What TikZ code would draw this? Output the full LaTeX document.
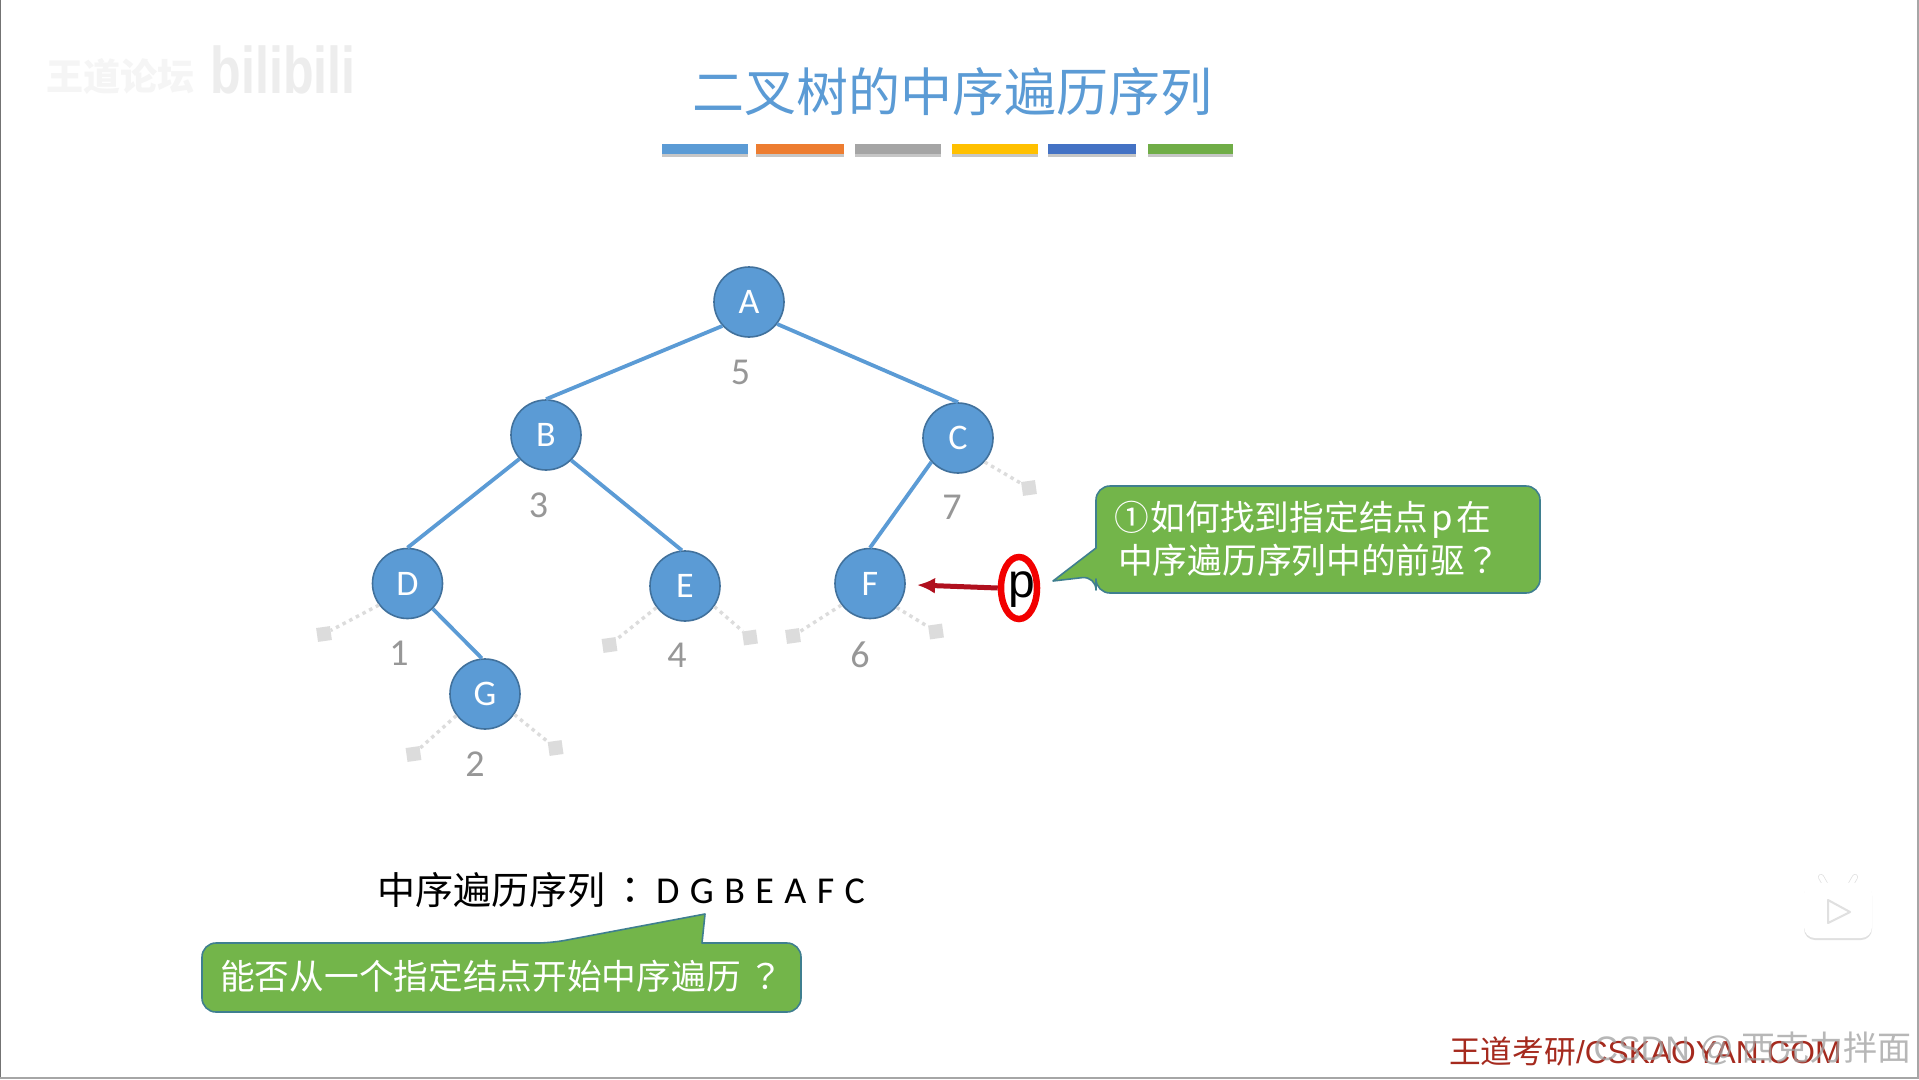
\documentclass[tikz,border=0pt]{standalone}
\usepackage{fontspec}
\setmainfont{Carlito}
\newfontfamily\cjk{Noto Sans CJK SC}
\newfontfamily\cjkt{Noto Sans CJK TC}
\newfontfamily\arl{Liberation Sans}
\usetikzlibrary{shapes.geometric,arrows.meta}
\definecolor{tblue}{HTML}{5B9BD5}
\definecolor{tedge}{HTML}{41719C}
\definecolor{tgreen}{HTML}{73B54A}
\definecolor{tgreenedge}{HTML}{3F7F8F}
\definecolor{leaf}{HTML}{DCDCDC}
\definecolor{tred}{HTML}{B0101E}
\definecolor{brand}{HTML}{A52A1E}
\definecolor{ordergray}{HTML}{979797}
\tikzset{
  x=1pt,y=-1pt,
  tree/.style={circle,draw=tedge,line width=1.6pt,fill=tblue,minimum size=70pt,inner sep=0pt,text=white,font=\fontsize{36}{36}\selectfont},
  edgeline/.style={draw=tblue,line width=3.8pt},
  leafbox/.style={rectangle,fill=leaf,minimum size=14pt,inner sep=0pt,rotate=8},
  nulledge/.style={draw=leaf,line width=3.4pt,dash pattern=on 3.5pt off 4pt},
  order/.style={text=ordergray,font=\fontsize{38}{38}\selectfont,inner sep=0pt},
  callout/.style={fill=tgreen,draw=tgreenedge,line width=1.6pt,line join=round},
  calltext/.style={anchor=west,text=white,font=\cjk\fontsize{34.7}{34.7}\selectfont,inner sep=0pt},
}
\begin{document}
\begin{tikzpicture}
\useasboundingbox (0,0) rectangle (1919,1079);
\fill[white] (0,0) rectangle (1919,1079);
\draw[gray!90!black,line width=1.5pt] (0.7,0) -- (0.7,1079);
\draw[gray!70,line width=1.5pt] (0,1078) -- (1919,1078);
\draw[gray!70,line width=1.5pt] (1918.2,0) -- (1918.2,1079);
% faint watermark
\node[text=black!4,font=\cjk\bfseries\fontsize{37}{37}\selectfont,inner sep=0pt] (wm1) at (120,76) {王道论坛};
\node[text=black!7,font=\arl\bfseries\fontsize{66}{66}\selectfont,inner sep=0pt,xscale=.76] (wm2) at (283,70) {bilibili};
% title
\node[text=tblue,font=\cjk\fontsize{52}{52}\selectfont,inner sep=0pt] (title) at (952,92) {二叉树的中序遍历序列};
\foreach \a/\b/\c in {662/748/5B9BD5,756/844/ED7D31,855/941/A5A5A5,952/1038/FFC000,1048/1136/4472C4,1148/1233/70AD47}{
  \definecolor{cc}{HTML}{\c}
  \fill[gray!45] (\a,149) rectangle (\b,157);
  \fill[cc] (\a,144) rectangle (\b,154);
}
% tree nodes
\node[tree] (A) at (749,302) {A};
\node[tree] (B) at (546,435) {B};
\node[tree] (C) at (958,438) {C};
\node[tree] (D) at (407.5,583.5) {D};
\node[tree] (E) at (685,586) {E};
\node[tree] (F) at (870,583.5) {F};
\node[tree] (G) at (485,694) {G};
\draw[edgeline] (A.222) -- (B.north);
\draw[edgeline] (A.-38) -- (C.north);
\draw[edgeline] (B.222) -- (D.north);
\draw[edgeline] (B.-45) -- (E.95);
\draw[edgeline] (C.222) -- (F.north);
\draw[edgeline] (D.-45) -- (G.95);
% null leaves
\node[leafbox] (lc) at (1029,488) {};
\node[leafbox] (ld) at (324,634) {};
\node[leafbox] (lel) at (609.5,645) {};
\node[leafbox] (ler) at (750,637.5) {};
\node[leafbox] (lfl) at (793,636) {};
\node[leafbox] (lfr) at (936,631.5) {};
\node[leafbox] (lgl) at (413.5,754) {};
\node[leafbox] (lgr) at (555.6,748) {};
\draw[nulledge] (C.-42) -- (lc);
\draw[nulledge] (D.217) -- (ld);
\draw[nulledge] (E.217) -- (lel);
\draw[nulledge] (E.-35) -- (ler);
\draw[nulledge] (F.217) -- (lfl);
\draw[nulledge] (F.-42) -- (lfr);
\draw[nulledge] (G.217) -- (lgl);
\draw[nulledge] (G.-35) -- (lgr);
% order numbers
\node[order] (n5) at (740.5,372) {5};
\node[order] (n3) at (538.5,505.5) {3};
\node[order] (n7) at (952,507) {7};
\node[order] (n1) at (399,653.5) {1};
\node[order] (n4) at (677,655) {4};
\node[order] (n6) at (860,655) {6};
\node[order] (n2) at (475,764) {2};
% p pointer
\node[ellipse,draw=red!95!black,line width=6.5pt,fill=white,minimum width=36pt,minimum height=62pt,inner sep=0pt] (p) at (1019,588) {};
\node[font=\arl\fontsize{48}{48}\selectfont,inner sep=0pt] (pt) at (1022,590) {p};
\coordinate (ptip) at (917,585);
\draw[tred,line width=5pt,-{Latex[length=18pt,width=16pt]}] (p.west) -- (ptip);
% right callout
\draw[callout,rounded corners=14pt] (1096,576) [sharp corners] -- (1053,581) -- (1096,548) [rounded corners=14pt] -- (1096,486) -- (1540,486) -- (1540,593) -- (1096,593) -- cycle;
\node[calltext] (c1a) at (1114,520) {①\hspace{2pt}如何找到指定结点\hspace{3pt}p\hspace{3pt}在};
\node[calltext] (c1b) at (1118,560) {中序遍历序列中的前驱{\cjkt ？}};
% sequence text
\node[anchor=west,font=\cjk\fontsize{38}{38}\selectfont,inner sep=0pt] (seq) at (377,890) {中序遍历序列\hspace{6pt}{\cjkt ：}};
\node[anchor=west,font=\fontsize{38}{38}\selectfont,inner sep=0pt] (seqv) at (656,891) {D\hspace{10.4pt}G\hspace{10.4pt}B\hspace{10.4pt}E\hspace{10.4pt}A\hspace{10.4pt}F\hspace{10.4pt}C};
% bottom callout
\draw[callout,rounded corners=14pt] (551,943) [sharp corners] -- (705,914) -- (702,943) [rounded corners=14pt] -- (801,943) -- (801,1012) -- (202,1012) -- (202,943) -- cycle;
\node[calltext] (c2) at (220,976) {能否从一个指定结点开始中序遍历\hspace{8pt}{\cjkt ？}};
% play badge
\fill[black!12,rounded corners=11pt] (1804,885) rectangle (1872,940);
\draw[black!12,line width=6pt,line cap=round] (1825,884) -- (1821,877);
\draw[black!12,line width=6pt,line cap=round] (1851,884) -- (1855,877);
\draw[white,line width=4.5pt,line cap=round] (1825,884) -- (1821,877);
\draw[white,line width=4.5pt,line cap=round] (1851,884) -- (1855,877);
\fill[white,rounded corners=11pt] (1804,883) rectangle (1872,938);
\draw[black!12,fill=white,line width=2pt,line join=round] (1828,900) -- (1850,912) -- (1828,923) -- cycle;
% footer
\node[anchor=west,text=brand,font=\arl\fontsize{31.7}{31.7}\selectfont,inner sep=0pt] (logo) at (1449,1051) {{\cjk 王道考研}/CSKAOYAN.COM};
\node[anchor=east,text=gray!75,opacity=.75,font=\arl\fontsize{34}{34}\selectfont,inner sep=0pt] (csdn) at (1912,1049) {CSDN @\hspace{8pt}{\cjk 西克力拌面}};
\end{tikzpicture}
\end{document}
